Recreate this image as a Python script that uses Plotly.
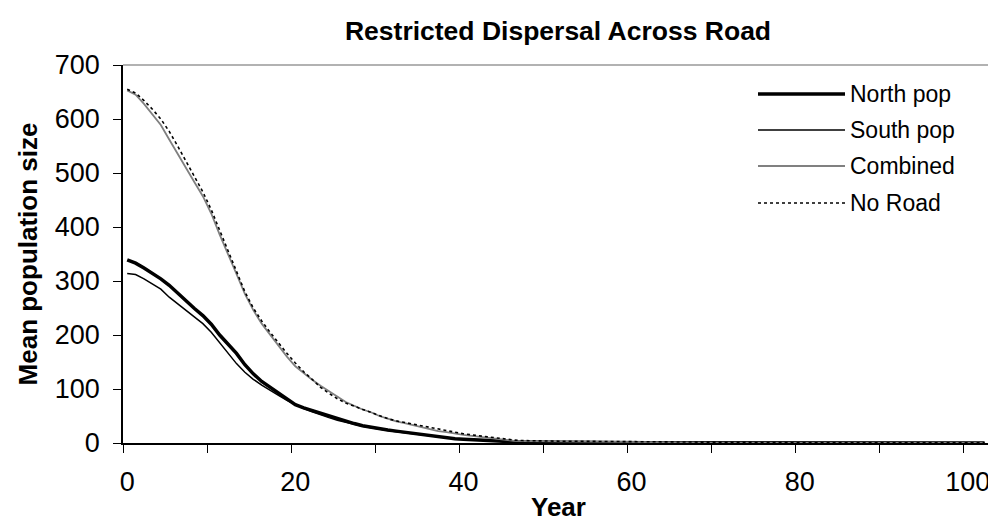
import plotly.graph_objects as go

years = list(range(0, 103))

north_pop = [
    339, 333, 324, 314, 304, 292, 277, 262, 249, 236,
    220, 200, 183, 166, 145, 128, 114, 103, 93, 81,
    71, 65, 60, 55, 51, 45, 40, 36, 32, 29,
    26, 24, 22, 20, 18, 16, 13, 12, 10, 8,
    7, 6, 5, 4, 3.2, 2.6, 2.2, 2.0, 1.8, 1.6,
    1.5, 1.5, 1.4, 1.4, 1.3, 1.3, 1.2, 1.2, 1.1, 1.0,
    0.6, 0.5, 0.5, 0.4, 0.4, 0.4, 0.3, 0.3, 0.3, 0.3,
    0.2, 0.2, 0.2, 0.2, 0.2, 0.2, 0.2, 0.2, 0.2, 0.2,
    0.2, 0.2, 0.1, 0.1, 0.1, 0.1, 0.1, 0.1, 0.1, 0.1,
    0.1, 0.1, 0.1, 0.1, 0.1, 0.1, 0.1, 0.1, 0.1, 0.1,
    0.1, 0.1, 0.1,
]

south_pop = [
    314, 312, 304, 295, 285, 270, 258, 246, 234, 221,
    205, 186, 165, 147, 131, 118, 107, 97, 88, 79,
    71, 64, 58, 52, 47, 42, 38, 34, 31, 28,
    25, 23, 21, 19, 17, 15, 13, 11, 10, 8,
    7, 6, 5, 4, 3.0, 2.5, 2.1, 1.9, 1.7, 1.5,
    1.4, 1.4, 1.3, 1.3, 1.2, 1.2, 1.1, 1.1, 1.0, 0.9,
    0.6, 0.5, 0.5, 0.4, 0.4, 0.4, 0.3, 0.3, 0.3, 0.3,
    0.2, 0.2, 0.2, 0.2, 0.2, 0.2, 0.2, 0.2, 0.2, 0.2,
    0.2, 0.2, 0.1, 0.1, 0.1, 0.1, 0.1, 0.1, 0.1, 0.1,
    0.1, 0.1, 0.1, 0.1, 0.1, 0.1, 0.1, 0.1, 0.1, 0.1,
    0.1, 0.1, 0.1,
]

combined = [
    653, 645, 628, 609, 589, 562, 535, 508, 483, 457,
    425, 386, 348, 313, 276, 246, 221, 200, 181, 160,
    142, 129, 117, 106, 96, 85, 76, 69, 62, 57,
    50, 45, 40, 37, 33, 29, 25, 22, 20, 17,
    15, 13, 11, 9, 7, 5, 4.0, 3.6, 3.4, 3.2,
    3.0, 3.0, 3.0, 2.9, 2.9, 2.9, 2.8, 2.8, 2.7, 2.5,
    1.5, 1.2, 1.1, 1.0, 1.0, 0.9, 0.9, 0.9, 0.8, 0.8,
    0.8, 0.8, 0.7, 0.7, 0.7, 0.7, 0.7, 0.6, 0.6, 0.6,
    0.6, 0.6, 0.6, 0.5, 0.5, 0.5, 0.5, 0.5, 0.5, 0.5,
    0.5, 0.5, 0.5, 0.4, 0.4, 0.4, 0.4, 0.4, 0.4, 0.4,
    0.4, 0.4, 0.4,
]

no_road = [
    655, 648, 634, 618, 600, 577, 550, 521, 493, 465,
    432, 394, 355, 318, 280, 250, 226, 205, 185, 166,
    148, 132, 118, 103, 92, 82, 74, 68, 62, 56,
    50, 45, 41, 38, 34, 31, 28, 25, 22, 19,
    17, 15, 13, 11, 9, 7, 5.5, 4.5, 4.0, 3.6,
    3.4, 3.3, 3.2, 3.2, 3.1, 3.1, 3.0, 3.0, 2.9, 2.7,
    1.5, 1.2, 1.1, 1.0, 1.0, 0.9, 0.9, 0.9, 0.8, 0.8,
    0.8, 0.8, 0.7, 0.7, 0.7, 0.7, 0.7, 0.6, 0.6, 0.6,
    0.6, 0.6, 0.6, 0.5, 0.5, 0.5, 0.5, 0.5, 0.5, 0.5,
    0.5, 0.5, 0.5, 0.4, 0.4, 0.4, 0.4, 0.4, 0.4, 0.4,
    0.4, 0.4, 0.4,
]

series_names = ["North pop", "South pop", "Combined", "No Road"]
x_tick_vals = [0, 20, 40, 60, 80, 100]
y_tick_vals = [0, 100, 200, 300, 400, 500, 600, 700]

FONT = "Arial, 'Liberation Sans', sans-serif"

styles = [
    dict(color="black", width=3.5, dash="solid"),
    dict(color="black", width=1.5, dash="solid"),
    dict(color="#808080", width=1.8, dash="solid"),
    dict(color="black", width=1.6, dash="3px,3px"),
]

# page body has an 8px margin; figure coordinates below are page coords minus 8
OFF = 8
W, H = 996 - OFF, 521 - OFF
PL, PR, PT, PB = 123 - OFF, 993 - OFF, 65 - OFF, 443 - OFF

fig = go.Figure()
for name, vals, st in zip(series_names, [north_pop, south_pop, combined, no_road], styles):
    fig.add_trace(go.Scatter(x=years, y=vals, mode="lines", name=name,
                             line=dict(color=st["color"], width=st["width"], dash=st["dash"]),
                             showlegend=False))

# plot area border (top/right gray)
fig.add_shape(type="line", xref="paper", yref="paper", x0=0, x1=1, y0=1, y1=1,
              line=dict(color="#999999", width=1.5))
fig.add_shape(type="line", xref="paper", yref="paper", x0=1, x1=1, y0=0, y1=1,
              line=dict(color="#999999", width=1.5))

def px_x(p):
    return (p - OFF - PL) / (PR - PL)
def px_y(p):
    return (PB - (p - OFF)) / (PB - PT)

# manual legend (page pixel positions)
legend_rows = [94, 130, 166, 203]
for name, st, yy in zip(series_names, styles, legend_rows):
    fig.add_shape(type="line", xref="paper", yref="paper",
                  x0=px_x(758), x1=px_x(845), y0=px_y(yy), y1=px_y(yy),
                  line=dict(color=st["color"], width=st["width"], dash=st["dash"]))
    fig.add_annotation(xref="paper", yref="paper", x=px_x(849), y=px_y(yy),
                       text=name, showarrow=False, xanchor="left", yanchor="middle",
                       borderpad=0,
                       font=dict(family=FONT, size=23, color="black"))

# x-axis title as annotation
fig.add_annotation(xref="paper", yref="paper", x=0.5, y=px_y(507),
                   text="<b>Year</b>", showarrow=False, xanchor="center", yanchor="middle",
                   borderpad=0, font=dict(family=FONT, size=26, color="black"))

fig.update_layout(
    width=W, height=H,
    margin=dict(l=PL, r=W - PR, t=PT, b=H - PB, autoexpand=False),
    paper_bgcolor="white", plot_bgcolor="white",
    title=dict(text="<b>Restricted Dispersal Across Road</b>", x=(PL + PR) / 2 / W,
               xanchor="center", y=1 - (31 - OFF) / H, yanchor="middle",
               font=dict(family=FONT, size=26.5, color="black")),
    font=dict(family=FONT, color="black"),
)

fig.update_xaxes(
    range=[-0.5, 103], tickvals=x_tick_vals, ticktext=[str(v) for v in x_tick_vals],
    ticks="outside", ticklen=8, tickcolor="rgba(0,0,0,0)", automargin=False,
    ticklabelstandoff=6,
    minor=dict(ticks="outside", tick0=-0.5, dtick=10, ticklen=8, tickcolor="black",
               tickwidth=1.3, showgrid=False),
    showline=True, linecolor="black", linewidth=1.5, showgrid=False, zeroline=False,
    tickfont=dict(family=FONT, size=27, color="black"),
)
fig.update_yaxes(
    range=[0, 700], tickvals=y_tick_vals, ticks="outside", ticklen=8, tickcolor="black",
    tickwidth=1.3, showline=True, linecolor="black", linewidth=1.5, automargin=False,
    showgrid=False, zeroline=False, ticklabelstandoff=8,
    tickfont=dict(family=FONT, size=27, color="black"),
    title=dict(text="<b>Mean population size</b>", font=dict(family=FONT, size=26, color="black"),
               standoff=10),
)

fig.write_html("out.html")
